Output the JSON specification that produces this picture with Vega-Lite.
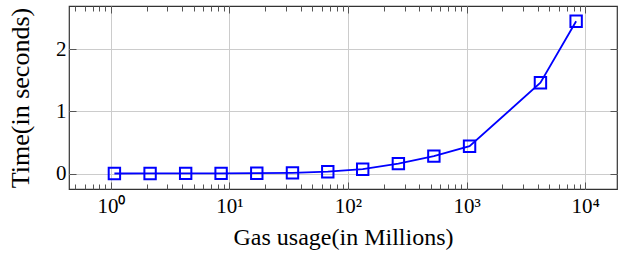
{
  "$schema": "https://vega.github.io/schema/vega-lite/v6.json",
  "width": 548,
  "height": 183,
  "autosize": {"type": "none"},
  "padding": {"left": 69, "top": 6, "right": 1, "bottom": 66},
  "config": {
    "view": {"stroke": "#333333", "strokeWidth": 1.2},
    "font": "Liberation Serif",
    "axis": {
      "domain": false,
      "labelFont": "Liberation Serif",
      "titleFont": "Liberation Serif",
      "labelColor": "#000000",
      "titleColor": "#000000",
      "titleFontWeight": "normal",
      "tickColor": "#555555",
      "gridColor": "#cccccc",
      "labelOverlap": false,
      "labelFlush": false,
      "labelBound": false
    }
  },
  "data": {
    "values": [
      {"gas": 1.07, "time": 0.001},
      {"gas": 2.14, "time": 0.002},
      {"gas": 4.27, "time": 0.003},
      {"gas": 8.5, "time": 0.004},
      {"gas": 17, "time": 0.006},
      {"gas": 34, "time": 0.012},
      {"gas": 67.5, "time": 0.03},
      {"gas": 133, "time": 0.07},
      {"gas": 266, "time": 0.16},
      {"gas": 530, "time": 0.28},
      {"gas": 1060, "time": 0.44},
      {"gas": 4200, "time": 1.46},
      {"gas": 8400, "time": 2.45}
    ]
  },
  "resolve": {"axis": {"x": "independent", "y": "independent"}},
  "layer": [
    {
      "mark": {"type": "line", "color": "#0000ff", "strokeWidth": 1.8},
      "encoding": {
        "x": {
          "field": "gas",
          "type": "quantitative",
          "scale": {"type": "log", "domain": [0.443, 18580], "nice": false},
          "axis": {
            "orient": "bottom",
            "title": "Gas usage(in Millions)",
            "titleFont": "Liberation Serif",
            "titleFontSize": 24,
            "titlePadding": 7,
            "labelFont": "Liberation Serif",
            "labelFontSize": 21,
            "values": [0.5,0.6,0.7,0.8,0.9,1,2,3,4,5,6,7,8,9,10,20,30,40,50,60,70,80,90,100,200,300,400,500,600,700,800,900,1000,2000,3000,4000,5000,6000,7000,8000,9000,10000],
            "labelExpr": "datum.value==1?'10⁰':datum.value==10?'10¹':datum.value==100?'10²':datum.value==1000?'10³':datum.value==10000?'10⁴':''",
            "tickSize": {"condition": {"test": "datum.value==1||datum.value==10||datum.value==100||datum.value==1000||datum.value==10000", "value": -7}, "value": -5},
            "labelPadding": 13,
            "grid": true,
            "gridOpacity": {"condition": {"test": "datum.value==1||datum.value==10||datum.value==100||datum.value==1000||datum.value==10000", "value": 1}, "value": 0}
          }
        },
        "y": {
          "field": "time",
          "type": "quantitative",
          "scale": {"domain": [-0.248, 2.695], "nice": false, "zero": false},
          "axis": {
            "orient": "left",
            "title": "Time(in seconds)",
            "titleFont": "Liberation Serif",
            "titleFontSize": 26,
            "labelFont": "Liberation Serif",
            "labelFontSize": 21,
            "values": [0, 1, 2],
            "tickSize": -7,
            "labelPadding": 10,
            "grid": true,
            "titlePadding": 22
          }
        }
      }
    },
    {
      "mark": {"type": "point", "shape": "square", "size": 130, "filled": false, "color": "#0000ff", "strokeWidth": 2, "opacity": 1},
      "encoding": {
        "x": {
          "field": "gas",
          "type": "quantitative",
          "axis": {
            "orient": "top",
            "title": null,
            "labels": false,
            "grid": false,
            "values": [0.5,0.6,0.7,0.8,0.9,1,2,3,4,5,6,7,8,9,10,20,30,40,50,60,70,80,90,100,200,300,400,500,600,700,800,900,1000,2000,3000,4000,5000,6000,7000,8000,9000,10000],
            "tickSize": {"condition": {"test": "datum.value==1||datum.value==10||datum.value==100||datum.value==1000||datum.value==10000", "value": -7}, "value": -5}
          }
        },
        "y": {
          "field": "time",
          "type": "quantitative",
          "axis": {
            "orient": "right",
            "title": null,
            "labels": false,
            "grid": false,
            "values": [0, 1, 2],
            "tickSize": -7
          }
        }
      }
    }
  ]
}
